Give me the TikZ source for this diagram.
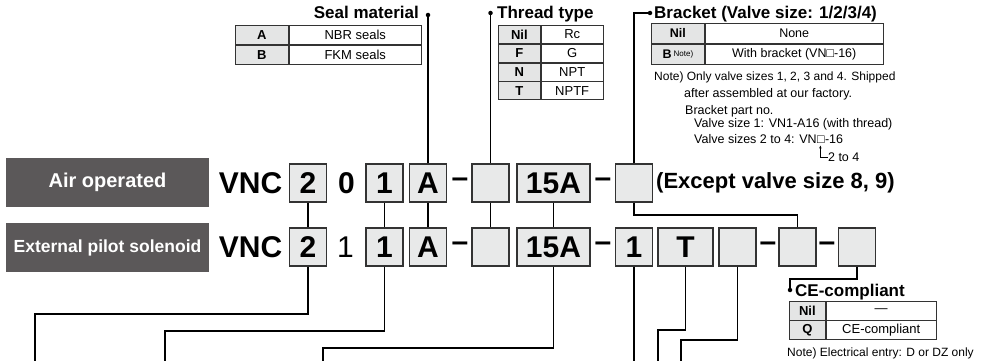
\documentclass[tikz,border=0pt]{standalone}
\usepackage{fontspec}
\setmainfont{Liberation Sans}
\usetikzlibrary{arrows.meta,positioning}
\definecolor{labelgray}{HTML}{5B5859}
\definecolor{boxgray}{HTML}{E8E9E9}
\definecolor{cellgray}{HTML}{E4E5E5}
\newcommand{\pxsize}[1]{\fontsize{#1}{#1}\selectfont}
\tikzstyle{modelabel}=[fill=labelgray,text=white,minimum width=203pt,minimum height=49pt,inner sep=0pt,font=\bfseries\pxsize{20}]
\tikzstyle{codebox}=[draw=black!80,fill=boxgray,line width=1.3pt,minimum width=37pt,minimum height=38pt,inner sep=0pt,font=\bfseries\pxsize{30}]
\tikzstyle{codetext}=[inner sep=0pt,font=\bfseries\pxsize{30}]
\tikzstyle{headline}=[anchor=base west,inner sep=0pt,font=\bfseries\pxsize{17}]
\tikzstyle{keycell}=[draw=black!80,fill=cellgray,line width=0.8pt,anchor=north west,inner sep=0pt,font=\bfseries\pxsize{13}]
\tikzstyle{valcell}=[draw=black!80,fill=white,line width=0.8pt,anchor=north west,inner sep=0pt,font=\pxsize{13}]
\tikzstyle{notetext}=[anchor=base west,inner sep=0pt,font=\pxsize{12}]
\tikzstyle{parttext}=[anchor=base west,inner sep=0pt,font=\pxsize{12.5}]
\tikzstyle{dot}=[circle,fill=black,inner sep=0pt,minimum size=4.5pt]
\tikzstyle{wire}=[line width=1.7pt]

\begin{document}
\begin{tikzpicture}[x=1pt,y=-1pt]
\useasboundingbox (0,0) rectangle (984,361);

% mode labels
\node [modelabel] (air) at (107.5,182.5) {Air operated};
\node [modelabel,font=\bfseries\pxsize{17.5}] (ext) at (107.5,247.5) {External pilot solenoid};

% first row
\node [codetext] (vnc1) at (250.5,183) {VNC};
\node [codebox] (s1) at (308,183) {2};
\node [codetext] (z1) at (346.5,183) {0};
\node [codebox] (n1) at (384.5,183) {1};
\node [codebox] (m1) at (428,183) {A};
\node [codetext] (da1) at (460,183) {–};
\node [codebox] (t1) at (490.5,183) {};
\node [codebox,minimum width=73pt] (p1) at (553.5,183) {15A};
\node [codetext] (db1) at (603,183) {–};
\node [codebox] (k1) at (634,183) {};
\node [anchor=west,inner sep=0pt,font=\bfseries\pxsize{22}] (exc1) at (656,183) {(Except valve size 8, 9)};

% second row
\node [codetext] (vnc2) at (250.5,247) {VNC};
\node [codebox] (s2) at (308,247) {2};
\node [codetext,font=\pxsize{30}] (z2) at (345.5,247) {1};
\node [codebox] (n2) at (384.5,247) {1};
\node [codebox] (m2) at (428,247) {A};
\node [codetext] (da2) at (460,247) {–};
\node [codebox] (t2) at (490.5,247) {};
\node [codebox,minimum width=73pt] (p2) at (553.5,247) {15A};
\node [codetext] (db2) at (603,247) {–};
\node [codebox] (c2) at (634,247) {1};
\node [codebox,minimum width=55pt] (o2) at (685.5,247) {T};
\node [codebox] (x2) at (737.5,247) {};
\node [codetext] (dc2) at (768,247) {–};
\node [codebox] (q2) at (797.5,247) {};
\node [codetext] (dd2) at (827,247) {–};
\node [codebox] (ce2) at (857,247) {};

% links between the rows
\draw [wire] (s1) -- (s2);
\draw [wire] (n1) -- (n2);
\draw [wire] (m1) -- (m2);
\draw [wire] (t1) -- (t2);
\draw [wire] (p1) -- (p2);
\draw [wire] (k1.south) -- ++(0,12) -| (q2.north);

% seal material
\node [dot] (sealdot) at (428,15) {};
\draw [wire] (m1) -- (sealdot);
\node [headline,anchor=base east] (sealhd) at (419,19) {Seal material};
\node [keycell,minimum width=53pt,minimum height=19pt] (sealA) at (235,25) {A};
\node [valcell,minimum width=132pt,minimum height=19pt,right=0pt of sealA] (sealAv) {NBR seals};
\node [keycell,minimum width=53pt,minimum height=19pt,below=0pt of sealA] (sealB) {B};
\node [valcell,minimum width=132pt,minimum height=19pt,below=0pt of sealAv] (sealBv) {FKM seals};

% thread type
\node [dot] (threaddot) at (490.5,13) {};
\draw [wire] (t1) -- (threaddot);
\node [headline] (threadhd) at (497,19) {Thread type};
\node [keycell,minimum width=42pt,minimum height=18pt] (thrNil) at (498,25) {Nil};
\node [valcell,minimum width=62pt,minimum height=18pt,right=0pt of thrNil] (thrNilv) {Rc};
\node [keycell,minimum width=42pt,minimum height=18pt,below=0pt of thrNil] (thrF) {F};
\node [valcell,minimum width=62pt,minimum height=18pt,below=0pt of thrNilv] (thrFv) {G};
\node [keycell,minimum width=42pt,minimum height=18pt,below=0pt of thrF] (thrN) {N};
\node [valcell,minimum width=62pt,minimum height=18pt,below=0pt of thrFv] (thrNv) {NPT};
\node [keycell,minimum width=42pt,minimum height=18pt,below=0pt of thrN] (thrT) {T};
\node [valcell,minimum width=62pt,minimum height=18pt,below=0pt of thrNv] (thrTv) {NPTF};

% bracket
\node [dot] (brdot) at (650,13) {};
\draw [wire] (k1.north) |- (brdot);
\node [headline] (brhd) at (654,19) {Bracket (Valve size: 1/2/3/4)};
\node [keycell,minimum width=53pt,minimum height=20pt,font=\bfseries\pxsize{12.5}] (brNil) at (651,23) {Nil};
\node [valcell,minimum width=178pt,minimum height=20pt,font=\pxsize{12.5},right=0pt of brNil] (brNilv) {None};
\node [keycell,minimum width=53pt,minimum height=20pt,font=\bfseries\pxsize{12.5},below=0pt of brNil] (brB) {B\,{\mdseries\pxsize{8}\raisebox{0.5ex}{Note)}}};
\node [valcell,minimum width=178pt,minimum height=20pt,font=\pxsize{12.5},below=0pt of brNilv] (brBv) {With bracket (VN□-16)};
\node [notetext] (note1) at (654,81) {Note) Only valve sizes 1, 2, 3 and 4. Shipped};
\node [parttext] (note2) at (684,97.5) {after assembled at our factory.};
\node [parttext] (note3) at (685,114.5) {Bracket part no.};
\node [parttext] (note4) at (694,127.5) {Valve size 1: VN1-A16 (with thread)};
\node [parttext] (note5) at (694,143.5) {Valve sizes 2 to 4: VN};
\node [parttext] (sq) at (note5.base east) {□};
\node [parttext] (note5b) at (sq.base east) {-16};
\node [parttext] (note6) at ([xshift=7pt,yshift=-18pt]sq.base) {2 to 4};
\draw [line width=0.6pt,-{Stealth[length=3pt,width=2.5pt]}] (note6.west) -| ([xshift=-0.5pt,yshift=-2pt]sq.base);

% ce-compliant
\node [dot] (cedot) at (790,290) {};
\draw [wire] (ce2.south) -- ++(0,12) -| (cedot);
\node [headline] (cehd) at (795,296) {CE-compliant};
\node [keycell,minimum width=36pt,minimum height=18.5pt] (ceNil) at (789,301) {Nil};
\node [valcell,minimum width=110pt,minimum height=18.5pt,right=0pt of ceNil] (ceNilv) {—};
\node [keycell,minimum width=36pt,minimum height=18.5pt,below=0pt of ceNil] (ceQ) {Q};
\node [valcell,minimum width=110pt,minimum height=18.5pt,below=0pt of ceNilv] (ceQv) {CE-compliant};
\node [notetext] (cenote) at (787,356) {Note) Electrical entry: D or DZ only};

% leads running off the bottom
\coordinate (out1) at (35,361);
\coordinate (out2) at (165,361);
\coordinate (out3) at (323,361);
\coordinate (out4) at (634,361);
\coordinate (out5) at (658,361);
\coordinate (out6) at (681,361);
\draw [wire] (s2.south) -- ++(0,47) -| (out1);
\draw [wire] (n2.south) -- ++(0,64) -| (out2);
\draw [wire] (p2.south) -- ++(0,81) -| (out3);
\draw [wire] (c2) -- (out4);
\draw [wire] (o2.south) -- ++(0,63) -| (out5);
\draw [wire] (x2.south) -- ++(0,73) -| (out6);
\end{tikzpicture}
\end{document}
